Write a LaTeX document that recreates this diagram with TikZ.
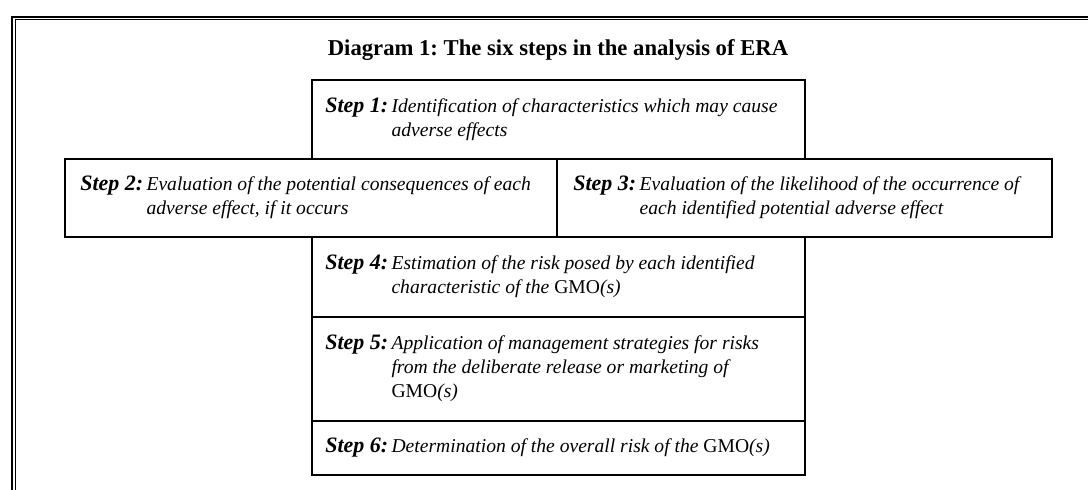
\documentclass[tikz,border=0pt]{standalone}
\usepackage{fontspec}
\setmainfont{Liberation Serif}
\frenchspacing
\newcommand\stepline[2]{{\fontsize{16.5}{18}\selectfont\textbf{\textit{Step #1:}}}\hspace{2.5pt}\begin{tabular}[t]{@{}l@{}}#2\end{tabular}}
\tikzset{
  pbox/.style 2 args={draw, line width=1.4pt, inner sep=0pt, anchor=north west,
    minimum width=#1*0.75pt, minimum height=#2*0.75pt},
  txt/.style={anchor=west, inner sep=0pt, font=\fontsize{14.7}{18}\selectfont\itshape},
  ttl/.style={inner sep=0pt, font=\fontsize{17}{20}\selectfont\bfseries},
}
\begin{document}
\begin{tikzpicture}[x=0.75pt,y=-0.75pt]
\useasboundingbox (0,0) rectangle (1088,489);
\clip (0,0) rectangle (1088,489);
% frame
\draw[line width=1.5pt] (12,500) -- (12,16.6) -- (1100,16.6);
\draw[line width=0.8pt] (15.4,500) -- (15.4,19.8) -- (1100,19.8);
% title
\node[ttl] (title) at (558,50) {Diagram 1: The six steps in the analysis of ERA};
% boxes
\node[pbox={493}{79.3}] (b1) at (311,78.7) {};
\node[pbox={492}{78}] (b2) at (64,158) {};
\node[pbox={495}{78}] (b3) at (556,158) {};
\node[pbox={493}{80}] (b4) at (311,236) {};
\node[pbox={493}{104}] (b5) at (311,316) {};
\node[pbox={493}{54}] (b6) at (311,420) {};
% texts
\node[txt] (t1) at ([xshift=10.5pt]b1.west) {\stepline{1}{Identification of characteristics which may cause\\adverse effects}};
\node[txt] (t2) at ([xshift=12pt]b2.west) {\stepline{2}{Evaluation of the potential consequences of each\\adverse effect, if it occurs}};
\node[txt] (t3) at ([xshift=12.8pt]b3.west) {\stepline{3}{Evaluation of the likelihood of the occurrence of\\each identified potential adverse effect}};
\node[txt] (t4) at ([xshift=10.5pt]b4.west) {\stepline{4}{Estimation of the risk posed by each identified\\characteristic of the \textup{GMO}(s)}};
\node[txt] (t5) at ([xshift=10.5pt]b5.west) {\stepline{5}{Application of management strategies for risks\\from the deliberate release or marketing of\\\textup{GMO}(s)}};
\node[txt] (t6) at ([xshift=10.5pt]b6.west) {\stepline{6}{Determination of the overall risk of the \textup{GMO}(s)}};
\end{tikzpicture}
\end{document}
